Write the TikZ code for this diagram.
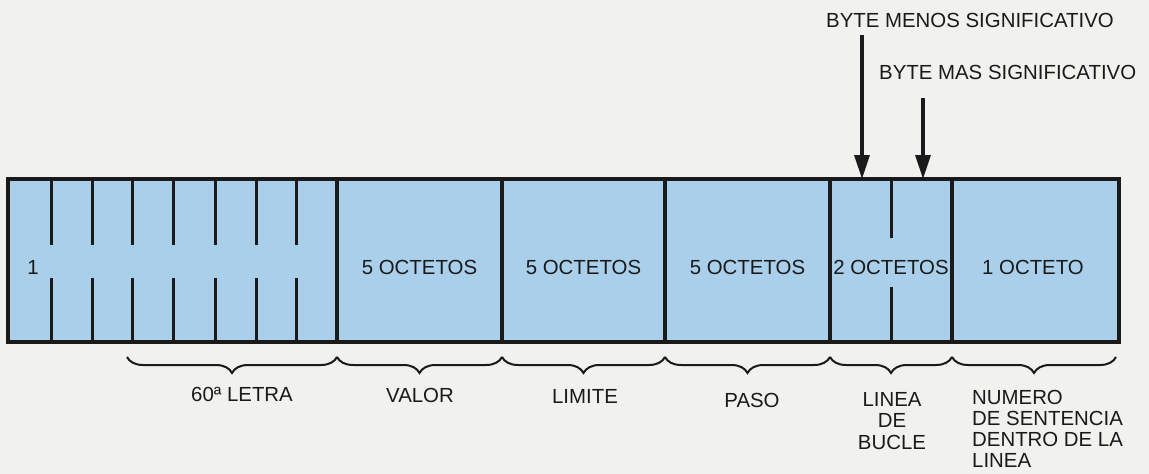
\documentclass[tikz,border=0pt]{standalone}
\usepackage{fontspec}
\setmainfont{Liberation Sans}
\usetikzlibrary{arrows.meta,decorations.pathreplacing}
\definecolor{bg}{HTML}{F1F1EF}
\definecolor{cellblue}{HTML}{A9CFEA}
\definecolor{ink}{HTML}{1A1A1A}
\begin{document}
\begin{tikzpicture}[x=1pt,y=-1pt,
  sect/.style={draw=ink, fill=cellblue, line width=3.5pt, minimum height=163pt,
    inner sep=0pt, outer sep=0pt, line join=miter},
  divider/.style={draw=ink, line width=3pt},
  lbl/.style={font=\fontsize{20.4}{21.6}\selectfont, text=ink, inner sep=0pt},
  bracebelow/.style={draw=ink, line width=2pt,
    decorate, decoration={brace, mirror, amplitude=16pt}},
  pointer/.style={draw=ink, line width=3.2pt, -{Triangle[length=24pt,width=15pt]}}
]
\fill[bg] (0,0) rectangle (1149,474);
\useasboundingbox (0,0) rectangle (1149,474);

% sections
\node[sect, minimum width=329pt] (letters) at (172.5,260.5) {};
\node[sect, minimum width=165pt] (valor)   at (419.5,260.5) {};
\node[sect, minimum width=163pt] (limite)  at (583.5,260.5) {};
\node[sect, minimum width=165pt] (paso)    at (747.5,260.5) {};
\node[sect, minimum width=122pt] (linea)   at (891,260.5) {};
\node[sect, minimum width=167pt] (numero)  at (1035.5,260.5) {};

% partial dividers (letters)
\foreach \x in {51,92,132,173,215,256,296}{
  \draw[divider] (\x,179) -- (\x,245);
  \draw[divider] (\x,278) -- (\x,342);
}
% partial divider (2 octetos)
\draw[divider] (891,179) -- (891,238);
\draw[divider] (891,287) -- (891,342);

% texts inside
\node[lbl] (t1) at (33,267) {1};
\node[lbl] (tvalor)  at (419.5,267) {5 OCTETOS};
\node[lbl] (tlimite) at (583.5,267) {5 OCTETOS};
\node[lbl] (tpaso)   at (747.5,267) {5 OCTETOS};
\node[lbl] (tlinea)  at (891,267) {2 OCTETOS};
\node[lbl] (tnumero) at (1033,267) {1 OCTETO};

% braces
\draw[bracebelow] (127,357) -- (337,357);
\draw[bracebelow] (337,357) -- (502,357);
\draw[bracebelow] (502,357) -- (665,357);
\draw[bracebelow] (665,357) -- (830,357);
\draw[bracebelow] (830,357) -- (952,357);
\draw[bracebelow] (952,357) -- (1116,357);

% labels below
\node[lbl] (lletra)  at (242,394) {60ª LETRA};
\node[lbl] (lvalor)  at (420,395.5) {VALOR};
\node[lbl] (llimite) at (585,396.5) {LIMITE};
\node[lbl] (lpaso)   at (752,400) {PASO};
\node[lbl, anchor=north, align=center] (lbucle) at (892,392) {LINEA\\DE\\BUCLE};
\node[lbl, font=\fontsize{20.4}{21}\selectfont, anchor=north west, align=left] (lnum) at (972,390) {NUMERO\\DE SENTENCIA\\DENTRO DE LA\\LINEA};

% top labels and arrows
\node[lbl, anchor=west] (menos) at (826,20) {BYTE MENOS SIGNIFICATIVO};
\node[lbl, anchor=west] (mas)   at (879,72) {BYTE MAS SIGNIFICATIVO};
\coordinate (amenos) at (862,35);
\coordinate (amas)   at (923,98);
\draw[pointer] (amenos) -- (amenos |- linea.north);
\draw[pointer] (amas) -- (amas |- linea.north);
\end{tikzpicture}
\end{document}
